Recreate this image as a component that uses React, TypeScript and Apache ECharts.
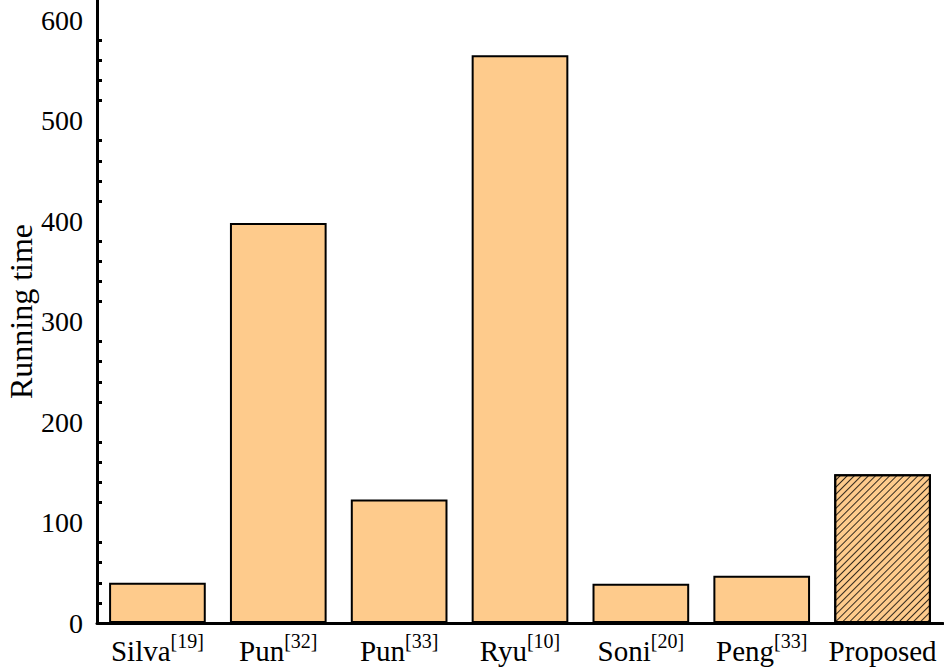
import React, { useEffect, useRef } from "react";
import * as echarts from "echarts";

const names = ["Silva", "Pun", "Pun", "Ryu", "Soni", "Peng", "Proposed"];
const refs = ["19", "32", "33", "10", "20", "33", ""];
const values = [40, 398, 123, 565, 39, 47, 148];

const BAR = "#FECB8C";
const FONT = "'Times New Roman', 'Liberation Serif', serif";

export default function App() {
  const ref = useRef<HTMLDivElement>(null);
  useEffect(() => {
    const chart = echarts.init(ref.current!, null, { renderer: "svg" });
    const cats = names.map((n, i) => (refs[i] ? `{a|${n}}{s|[${refs[i]}]}` : `{a|${n}}`));
    chart.setOption({
      animation: false,
      textStyle: { fontFamily: FONT },
      grid: { left: 97, right: 1, top: 0, bottom: 48, containLabel: false, outerBoundsMode: "none" },
      xAxis: [
        {
          type: "category",
          data: cats,
          axisLine: { lineStyle: { color: "#000", width: 3 } },
          axisTick: { inside: true, length: 6, lineStyle: { color: "#000", width: 3 } },
          axisLabel: {
            margin: 8,
            interval: 0,
            color: "#000",
            fontFamily: FONT,
            fontSize: 29,
            rich: {
              a: { fontFamily: FONT, fontSize: 29, color: "#000", verticalAlign: "bottom", lineHeight: 34 },
              s: { fontFamily: FONT, fontSize: 20, color: "#000", verticalAlign: "top", lineHeight: 26 },
            },
          },
        },
        {
          type: "category",
          data: cats,
          position: "bottom",
          axisLine: { show: false },
          axisTick: { inside: false, length: 5, lineStyle: { color: "#000", width: 3 } },
          axisLabel: { show: false },
        },
      ],
      yAxis: {
        type: "value",
        min: 0,
        max: 620,
        interval: 100,
        name: "Running time",
        nameLocation: "middle",
        nameGap: 60,
        nameMoveOverlap: false,
        nameTextStyle: { fontFamily: FONT, fontSize: 32, lineHeight: 32, color: "#000" },
        axisLine: { show: true, lineStyle: { color: "#000", width: 3 } },
        axisTick: { inside: true, length: 11, lineStyle: { color: "#000", width: 3 } },
        minorTick: { show: true, splitNumber: 5, length: 5, lineStyle: { color: "#000", width: 3 } },
        splitLine: { show: false },
        axisLabel: {
          showMaxLabel: false,
          margin: 14,
          color: "#000",
          fontFamily: FONT,
          fontSize: 28,
        },
      },
      series: [
        {
          type: "bar",
          barCategoryGap: "20%",
          data: values.map((v, i) =>
            i === values.length - 1
              ? {
                  value: v,
                  itemStyle: {
                    color: BAR,
                    borderColor: "#000",
                    borderWidth: 2,
                    decal: {
                      symbol: "rect",
                      symbolSize: 1,
                      color: "rgba(0,0,0,0.8)",
                      dashArrayX: [1, 0],
                      dashArrayY: [1, 4],
                      rotation: -Math.PI / 4,
                    },
                  },
                }
              : v
          ),
          itemStyle: { color: BAR, borderColor: "#000", borderWidth: 2 },
        },
      ],
    });
    return () => chart.dispose();
  }, []);
  return <div ref={ref} style={{ width: 944, height: 671, position: "absolute", left: 0, top: 0 }} />;
}
